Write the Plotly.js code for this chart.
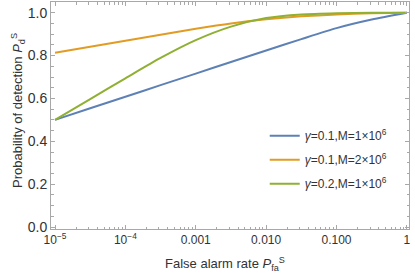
<!DOCTYPE html>
<html>
<head>
<meta charset="utf-8">
<script src="https://cdn.plot.ly/plotly-3.0.1.min.js"></script>
<style>html,body{margin:0;padding:0;background:#fff;}#chart{width:415px;height:278px;}</style>
</head>
<body>
<div id="chart"></div>
<script>
// False alarm rate (log10 of P_fa), read at half-decade points
var logPfa = [-5, -4.5, -4, -3.5, -3, -2.5, -2, -1.5, -1, -0.5, 0];
var pfa = logPfa.map(function(v){ return Math.pow(10, v); });
// Probability of detection for each series
var pdG01M1 = [0.500, 0.554, 0.608, 0.662, 0.716, 0.770, 0.824, 0.877, 0.928, 0.968, 1.000];
var pdG01M2 = [0.813, 0.841, 0.869, 0.897, 0.925, 0.950, 0.969, 0.983, 0.992, 0.997, 1.000];
var pdG02M1 = [0.500, 0.597, 0.694, 0.789, 0.872, 0.935, 0.975, 0.992, 0.998, 1.000, 1.000];
var seriesNames = ['<i>γ</i>=0.1,M=1×10<sup>6</sup>', '<i>γ</i>=0.1,M=2×10<sup>6</sup>', '<i>γ</i>=0.2,M=1×10<sup>6</sup>'];
var seriesColors = ['#5E81B5', '#E19C24', '#8FB032'];
var xTickVals = [1e-5, 1e-4, 1e-3, 1e-2, 1e-1, 1];
var xTickText = ['10<sup>−5</sup>', '10<sup>−4</sup>', '0.001', '0.010', '0.100', '1'];

var xMinor = [];
for (var e = -5; e < 0; e++) for (var m = 2; m <= 9; m++) xMinor.push(m * Math.pow(10, e));
var yMinor = [];
for (var k = 0; k <= 20; k++) if (k % 4 !== 0) yMinor.push(k * 0.05);

var ys = [pdG01M1, pdG01M2, pdG02M1];
var traces = ys.map(function(y, i){
  return {
    x: pfa, y: y, type: 'scatter', mode: 'lines',
    name: seriesNames[i], legendgroup: 'g' + i,
    line: {color: seriesColors[i], width: 2, shape: 'spline', smoothing: 0.7}
  };
});
// invisible trace that carries the overlay axes used for the minor ticks
traces.unshift({x: [], y: [], type: 'scatter', mode: 'lines', xaxis: 'x2', yaxis: 'y2',
                showlegend: false, hoverinfo: 'skip'});

var frame = '#a8a8a8';
var L = 51, R = 409, T = 2, B = 229;
var xRange = [-5.057, 0.03], yRange = [-0.009, 1.05];
var layout = {
  width: 415, height: 278,
  margin: {l: 51, r: 6, t: 2, b: 49},
  paper_bgcolor: '#fff', plot_bgcolor: '#fff',
  font: {family: 'Liberation Sans, Arial, sans-serif', color: '#333'},
  showlegend: true,
  legend: {x: 0.597, y: 0.475, xanchor: 'left', yanchor: 'top', bgcolor: 'rgba(0,0,0,0)',
           font: {size: 12, color: '#333'}, tracegroupgap: 5, itemwidth: 30},
  xaxis: {
    type: 'log', range: xRange,
    tickmode: 'array', tickvals: xTickVals, ticktext: xTickText,
    ticks: 'inside', ticklen: 4, tickcolor: frame, tickfont: {size: 12, color: '#333'},
    showline: true, linecolor: frame, linewidth: 1, mirror: 'ticks',
    showgrid: false, zeroline: false
  },
  yaxis: {
    range: yRange, dtick: 0.2, tickformat: '.1f',
    ticks: 'inside', ticklen: 4, tickcolor: frame, tickfont: {size: 14, color: '#333'},
    showline: true, linecolor: frame, linewidth: 1, mirror: 'ticks',
    showgrid: false, zeroline: false
  },
  xaxis2: {
    type: 'log', range: xRange, overlaying: 'x', anchor: 'y2',
    tickmode: 'array', tickvals: xMinor, ticktext: xMinor.map(function(){ return ''; }),
    ticks: 'inside', ticklen: 2.5, tickcolor: frame, showticklabels: false,
    showline: false, mirror: 'ticks', showgrid: false, zeroline: false
  },
  yaxis2: {
    range: yRange, overlaying: 'y', anchor: 'x2',
    tickmode: 'array', tickvals: yMinor, ticktext: yMinor.map(function(){ return ''; }),
    ticks: 'inside', ticklen: 2.5, tickcolor: frame, showticklabels: false,
    showline: false, mirror: 'ticks', showgrid: false, zeroline: false
  },
  annotations: [
    {text: 'False alarm rate <i>P</i><sub>fa</sub><sup>S</sup>', xref: 'paper', yref: 'paper',
     x: (225 - L) / (R - L), y: -(264 - B) / (B - T), xanchor: 'center', yanchor: 'middle',
     showarrow: false, font: {size: 13, color: '#333'}},
    {text: 'Probability of detection <i>P</i><sub>d</sub><sup>S</sup>', xref: 'paper', yref: 'paper',
     x: -(L - 18) / (R - L), y: 0.52, xanchor: 'center', yanchor: 'middle', textangle: -90,
     showarrow: false, font: {size: 13, color: '#333'}}
  ]
};

Plotly.newPlot('chart', traces, layout, {staticPlot: true, displayModeBar: false});
</script>
</body>
</html>
